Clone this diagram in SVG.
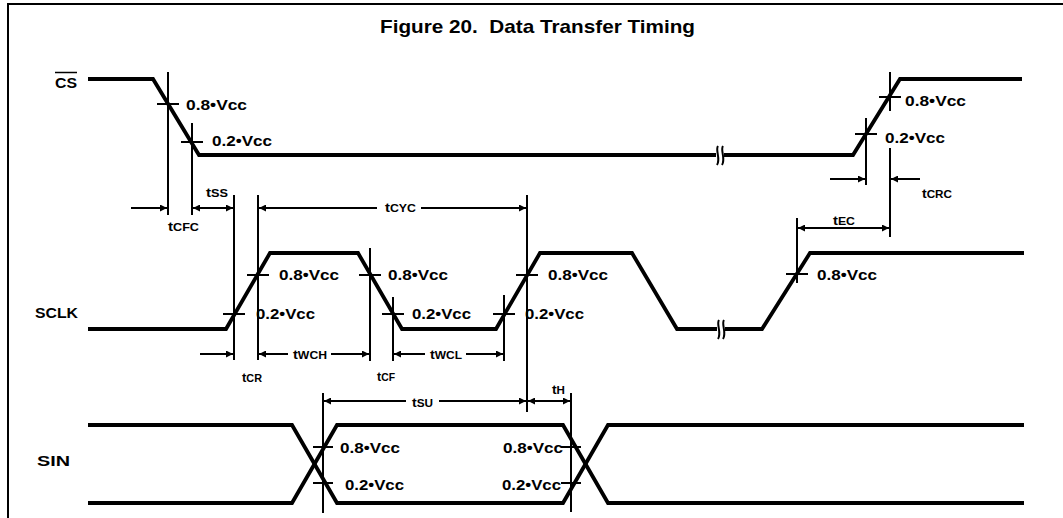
<svg xmlns="http://www.w3.org/2000/svg" width="1063" height="518" viewBox="0 0 1063 518">
<defs>
<marker id="ah" viewBox="0 0 10 10" refX="10" refY="5" markerWidth="10" markerHeight="7" markerUnits="userSpaceOnUse" orient="auto-start-reverse">
<path d="M0,0 L10,5 L0,10 z" fill="#000"/>
</marker>
<style>
.sig{fill:none;stroke:#000;stroke-width:3.8;stroke-linejoin:miter}
.ref{fill:none;stroke:#000;stroke-width:2}
.tick{fill:none;stroke:#000;stroke-width:2}
.dim{fill:none;stroke:#000;stroke-width:2}
.brk{fill:none;stroke:#000;stroke-width:2}
.lv{font-family:"Liberation Sans",Arial,sans-serif;font-size:14px;font-weight:bold;fill:#000}
.sn{font-family:"Liberation Sans",Arial,sans-serif;font-size:14px;font-weight:bold;fill:#000}
.tl{font-family:"Liberation Sans",Arial,sans-serif;font-size:12px;font-weight:bold;fill:#000}
.sub{font-size:10px}
.title{font-family:"Liberation Sans",Arial,sans-serif;font-size:19px;font-weight:bold;fill:#000;white-space:pre}
</style>
</defs>
<rect width="1063" height="518" fill="#fff"/>
<g id="frame">
<path d="M8,518 L8,4 L1063,4" fill="none" stroke="#000" stroke-width="2"/>
<text class="title" x="380" y="33" textLength="315" lengthAdjust="spacingAndGlyphs">Figure 20.  Data Transfer Timing</text>
</g>

<g id="cs">
<text class="sn" x="55" y="88" textLength="22" lengthAdjust="spacingAndGlyphs">CS</text>
<line x1="55" y1="72.5" x2="77" y2="72.5" stroke="#000" stroke-width="1.5"/>
<path class="sig" d="M88,79 L153,79 L199,155 L716,155 M724,155 L853,155 L900,79 L1022,79"/>
<path class="brk" d="M718,146 C715,150 721,159 717,165 M723,146 C720,150 726,159 722,165"/>
<line class="ref" x1="168" y1="72" x2="168" y2="215"/>
<line class="tick" x1="157" y1="104" x2="179" y2="104"/>
<line class="ref" x1="192" y1="123" x2="192" y2="215"/>
<line class="tick" x1="181" y1="142" x2="203" y2="142"/>
<text class="lv" x="186" y="110" textLength="61" lengthAdjust="spacingAndGlyphs">0.8•Vcc</text>
<text class="lv" x="212" y="146" textLength="60" lengthAdjust="spacingAndGlyphs">0.2•Vcc</text>
<line class="ref" x1="866" y1="118" x2="866" y2="185"/>
<line class="tick" x1="855" y1="134" x2="877" y2="134"/>
<line class="ref" x1="890" y1="72" x2="890" y2="111"/>
<line class="ref" x1="890" y1="148" x2="890" y2="237"/>
<line class="tick" x1="879" y1="97" x2="901" y2="97"/>
<text class="lv" x="905" y="106" textLength="61" lengthAdjust="spacingAndGlyphs">0.8•Vcc</text>
<text class="lv" x="885" y="143" textLength="60" lengthAdjust="spacingAndGlyphs">0.2•Vcc</text>
</g>

<g id="sclk">
<text class="sn" x="35" y="318" textLength="43" lengthAdjust="spacingAndGlyphs">SCLK</text>
<path class="sig" d="M88,329 L226,329 L270,253 L358,253 L402,329 L496,329 L540,253 L632,253 L677,329 L717,329 M725,329 L762,329 L810,253 L1024,253"/>
<path class="brk" d="M719,320 C716,324 722,333 718,339 M724,320 C721,324 727,333 723,339"/>
<line class="ref" x1="234" y1="195" x2="234" y2="360"/>
<line class="tick" x1="223" y1="314" x2="245" y2="314"/>
<line class="ref" x1="258" y1="195" x2="258" y2="360"/>
<line class="tick" x1="247" y1="275" x2="269" y2="275"/>
<text class="lv" x="279" y="280" textLength="60" lengthAdjust="spacingAndGlyphs">0.8•Vcc</text>
<text class="lv" x="256" y="319" textLength="59" lengthAdjust="spacingAndGlyphs">0.2•Vcc</text>
<line class="ref" x1="370" y1="248" x2="370" y2="361"/>
<line class="tick" x1="359" y1="275" x2="381" y2="275"/>
<line class="ref" x1="393" y1="297" x2="393" y2="361"/>
<line class="tick" x1="382" y1="314" x2="404" y2="314"/>
<text class="lv" x="388" y="280" textLength="60" lengthAdjust="spacingAndGlyphs">0.8•Vcc</text>
<text class="lv" x="412" y="319" textLength="59" lengthAdjust="spacingAndGlyphs">0.2•Vcc</text>
<line class="ref" x1="504" y1="295" x2="504" y2="361"/>
<line class="tick" x1="493" y1="314" x2="515" y2="314"/>
<line class="ref" x1="527" y1="195" x2="527" y2="412"/>
<line class="tick" x1="516" y1="275" x2="538" y2="275"/>
<text class="lv" x="548" y="280" textLength="60" lengthAdjust="spacingAndGlyphs">0.8•Vcc</text>
<text class="lv" x="525" y="319" textLength="59" lengthAdjust="spacingAndGlyphs">0.2•Vcc</text>
<line class="ref" x1="797" y1="218" x2="797" y2="283"/>
<line class="tick" x1="786" y1="274" x2="808" y2="274"/>
<text class="lv" x="817" y="280" textLength="60" lengthAdjust="spacingAndGlyphs">0.8•Vcc</text>
</g>

<g id="sin">
<text class="sn" x="37" y="466" textLength="33" lengthAdjust="spacingAndGlyphs">SIN</text>
<path class="sig" d="M88,425 L292,425 L337,503 L563,503 L608,425 L1024,425"/>
<path class="sig" d="M88,503 L292,503 L337,425 L563,425 L608,503 L1024,503"/>
<line class="ref" x1="323" y1="393" x2="323" y2="513"/>
<line class="tick" x1="313" y1="447" x2="333" y2="447"/>
<line class="tick" x1="313" y1="483" x2="333" y2="483"/>
<text class="lv" x="340" y="453" textLength="60" lengthAdjust="spacingAndGlyphs">0.8•Vcc</text>
<text class="lv" x="345" y="490" textLength="59" lengthAdjust="spacingAndGlyphs">0.2•Vcc</text>
<line class="ref" x1="571" y1="393" x2="571" y2="512"/>
<line class="tick" x1="561" y1="447" x2="581" y2="447"/>
<line class="tick" x1="561" y1="483" x2="581" y2="483"/>
<text class="lv" x="503" y="453" textLength="60" lengthAdjust="spacingAndGlyphs">0.8•Vcc</text>
<text class="lv" x="502" y="490" textLength="59" lengthAdjust="spacingAndGlyphs">0.2•Vcc</text>
</g>

<g id="connectors">
<line class="dim" x1="131" y1="208" x2="167" y2="208" marker-end="url(#ah)"/>
<line class="dim" x1="193" y1="208" x2="233" y2="208" marker-start="url(#ah)" marker-end="url(#ah)"/>
<path class="dim" d="M259,208 L377,208 M421,208 L526,208" marker-start="url(#ah)" marker-end="url(#ah)"/>
<line class="dim" x1="830" y1="179" x2="865" y2="179" marker-end="url(#ah)"/>
<line class="dim" x1="920" y1="179" x2="891" y2="179" marker-end="url(#ah)"/>
<line class="dim" x1="798" y1="228" x2="889" y2="228" marker-start="url(#ah)" marker-end="url(#ah)"/>
<line class="dim" x1="200" y1="354" x2="233" y2="354" marker-end="url(#ah)"/>
<path class="dim" d="M259,354 L288,354 M331,354 L369,354" marker-start="url(#ah)" marker-end="url(#ah)"/>
<path class="dim" d="M394,354 L425,354 M466,354 L503,354" marker-start="url(#ah)" marker-end="url(#ah)"/>
<path class="dim" d="M324,401 L406,401 M439,401 L526,401" marker-start="url(#ah)" marker-end="url(#ah)"/>
<line class="dim" x1="528" y1="401" x2="570" y2="401" marker-start="url(#ah)" marker-end="url(#ah)"/>
<text class="tl" x="206" y="197" textLength="22" lengthAdjust="spacingAndGlyphs">t<tspan class="sub">SS</tspan></text>
<text class="tl" x="168" y="231" textLength="31" lengthAdjust="spacingAndGlyphs">t<tspan class="sub">CFC</tspan></text>
<text class="tl" x="385" y="212" textLength="31" lengthAdjust="spacingAndGlyphs">t<tspan class="sub">CYC</tspan></text>
<text class="tl" x="922" y="198" textLength="30" lengthAdjust="spacingAndGlyphs">t<tspan class="sub">CRC</tspan></text>
<text class="tl" x="833" y="225" textLength="22" lengthAdjust="spacingAndGlyphs">t<tspan class="sub">EC</tspan></text>
<text class="tl" x="293" y="359" textLength="34" lengthAdjust="spacingAndGlyphs">t<tspan class="sub">WCH</tspan></text>
<text class="tl" x="430" y="359" textLength="32" lengthAdjust="spacingAndGlyphs">t<tspan class="sub">WCL</tspan></text>
<text class="tl" x="242" y="382" textLength="20" lengthAdjust="spacingAndGlyphs">t<tspan class="sub">CR</tspan></text>
<text class="tl" x="377" y="381" textLength="18" lengthAdjust="spacingAndGlyphs">t<tspan class="sub">CF</tspan></text>
<text class="tl" x="412" y="407" textLength="21" lengthAdjust="spacingAndGlyphs">t<tspan class="sub">SU</tspan></text>
<text class="tl" x="552" y="394" textLength="13" lengthAdjust="spacingAndGlyphs">t<tspan class="sub">H</tspan></text>
</g>
</svg>
